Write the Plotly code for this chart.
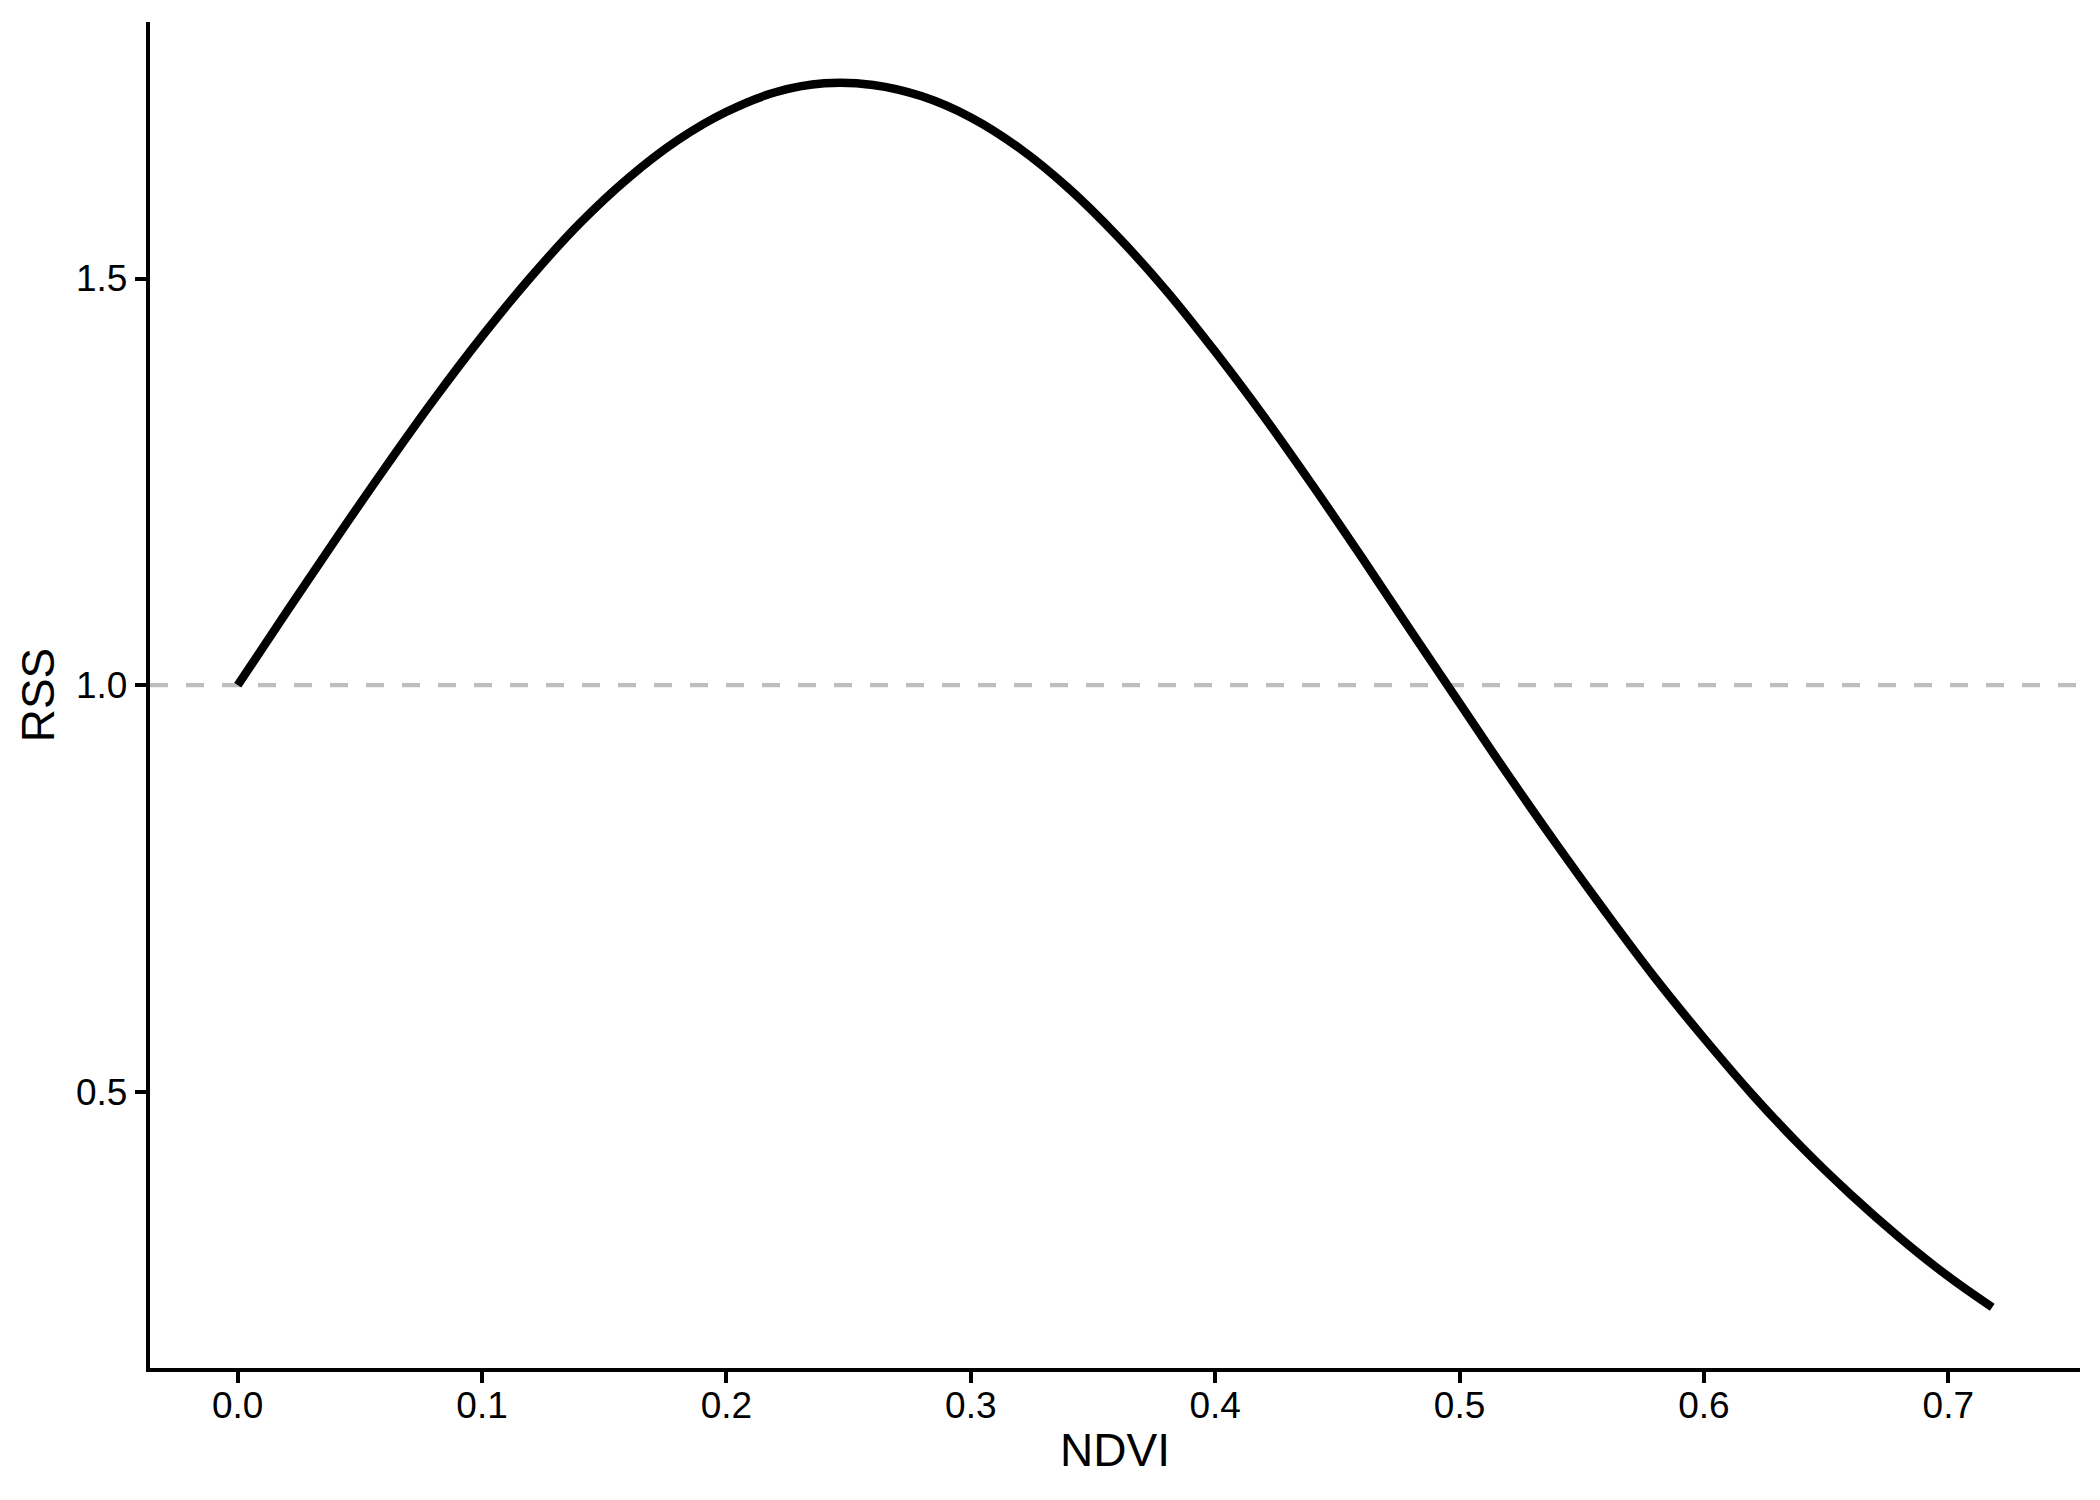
import plotly.graph_objects as go

# NDVI values and relative selection strength
ndvi = [0.00, 0.02, 0.04, 0.06, 0.08, 0.10, 0.12, 0.14, 0.16, 0.18,
        0.20, 0.22, 0.24, 0.26, 0.28, 0.30, 0.32, 0.34, 0.36, 0.38,
        0.40, 0.42, 0.44, 0.46, 0.48, 0.50, 0.52, 0.54, 0.56, 0.58,
        0.60, 0.62, 0.64, 0.66, 0.68, 0.70, 0.718]
rss = [1.000, 1.090, 1.179, 1.266, 1.350, 1.429, 1.502, 1.568, 1.624, 1.670,
       1.705, 1.729, 1.740, 1.738, 1.724, 1.698, 1.660, 1.611, 1.552, 1.485,
       1.410, 1.330, 1.245, 1.157, 1.067, 0.978, 0.889, 0.803, 0.720, 0.640,
       0.566, 0.496, 0.432, 0.374, 0.321, 0.273, 0.235]

x_ticks = [0.0, 0.1, 0.2, 0.3, 0.4, 0.5, 0.6, 0.7]
y_ticks = [0.5, 1.0, 1.5]
rss_ref = 1.0

font = "Liberation Sans, Arial, sans-serif"

fig = go.Figure()

fig.add_hline(y=rss_ref, line=dict(color="#BEBEBE", width=4.4, dash="18px,18px"),
              layer="below")

fig.add_trace(go.Scatter(
    x=ndvi, y=rss, mode="lines", line=dict(color="black", width=8.5, shape="spline"),
    hoverinfo="skip", showlegend=False,
))

axis_common = dict(
    showgrid=False, zeroline=False, showline=True, linecolor="black", linewidth=4.4,
    ticks="outside", ticklen=11, tickwidth=4.4, tickcolor="black",
    tickfont=dict(family=font, size=37, color="black"),
)

# page body adds an 8px offset, so margins are shifted to compensate
fig.update_layout(
    width=2100, height=1500,
    margin=dict(l=142, r=28, t=14, b=140, autoexpand=False),
    paper_bgcolor="white", plot_bgcolor="white",
    font=dict(family=font, color="black"),
    xaxis=dict(
        range=[-0.0359, 0.7539], tickvals=x_ticks, tickformat=".1f",
        ticklabelstandoff=-10,
        title=dict(text="NDVI", font=dict(family=font, size=46), standoff=10),
        **axis_common,
    ),
    yaxis=dict(
        range=[0.1604, 1.8154], tickvals=y_ticks, tickformat=".1f",
        title=dict(text="RSS", font=dict(family=font, size=46), standoff=8),
        **axis_common,
    ),
)

fig.write_html("out.html")
